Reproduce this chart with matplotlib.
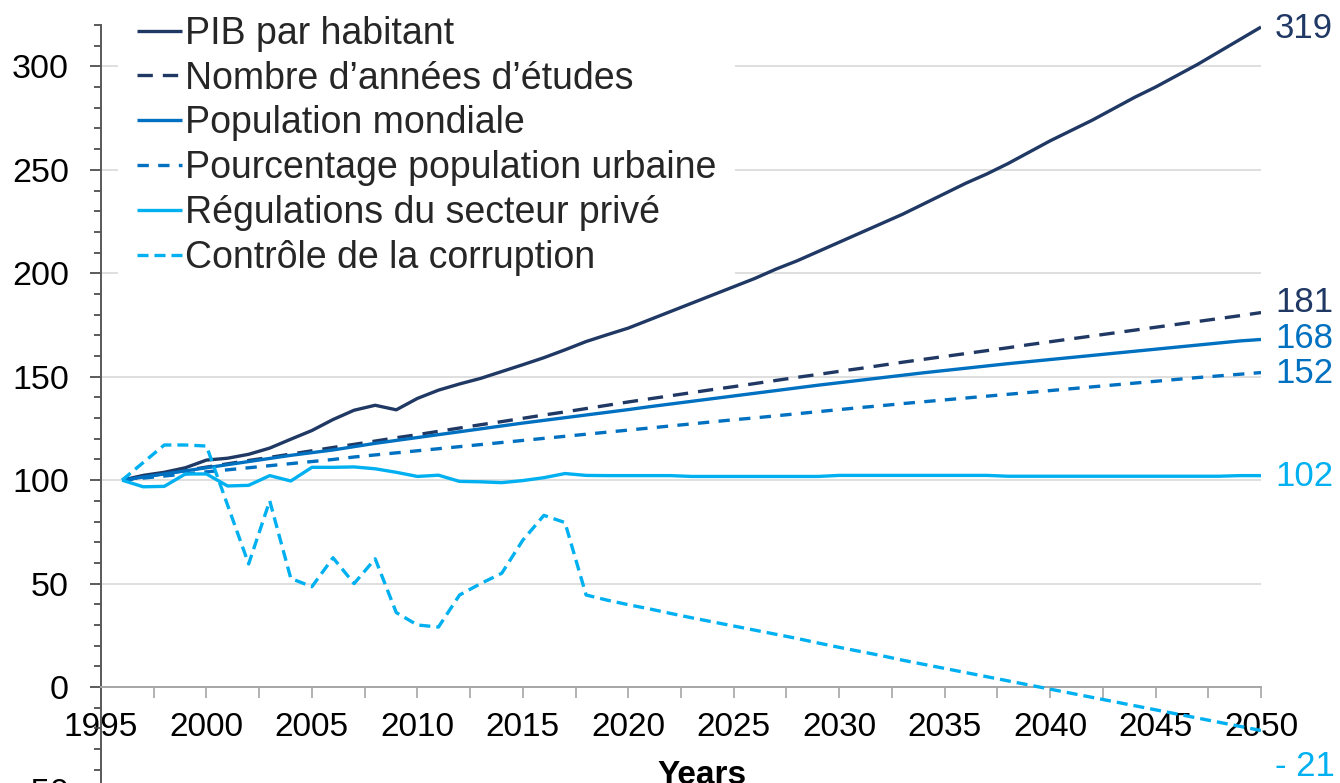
import numpy as np
import matplotlib
matplotlib.use("Agg")
import matplotlib.pyplot as plt
from matplotlib.ticker import MultipleLocator

plt.rcParams['font.family'] = ['Liberation Sans', 'DejaVu Sans']

years = np.arange(1996, 2051)

pib = [100, 102.3, 103.8, 106, 109.7, 110.6, 112.5, 115.5, 119.8, 124,
       129.3, 133.8, 136.2, 134, 139.5, 143.5, 146.5, 149.2, 152.5, 155.8,
       159.2, 163, 167, 170.3, 173.5, 177.5, 181.5, 185.5, 189.5, 193.5,
       197.5, 202, 206, 210.5, 215, 219.5, 224, 228.5, 233.5, 238.5,
       243.5, 248, 253, 258.5, 264, 269, 274, 279.5, 285, 290,
       295.5, 301, 307, 313, 319]
etudes = [100, 101.6, 103.2, 104.7, 106.3, 107.9, 109.5, 111, 112.6, 114.2,
          115.8, 117.3, 118.9, 120.5, 122, 123.6, 125.2, 126.8, 128.3, 129.9,
          131.5, 133, 134.6, 136.2, 137.8, 139.3, 140.8, 142.3, 143.8, 145.2,
          146.7, 148.2, 149.7, 151.1, 152.6, 154, 155.5, 157, 158.4, 159.8,
          161.2, 162.6, 164, 165.5, 166.9, 168.3, 169.7, 171.1, 172.5, 173.9,
          175.3, 176.7, 178.1, 179.5, 181]
population = [100, 101.5, 103, 104.5, 106, 107.5, 109, 110.5, 112, 113.3,
              114.6, 116.2, 117.8, 119.2, 120.6, 122, 123.4, 124.8, 126.2, 127.6,
              128.9, 130.2, 131.5, 132.8, 134.1, 135.5, 136.8, 138.1, 139.4, 140.7,
              142, 143.3, 144.6, 145.9, 147.1, 148.3, 149.5, 150.7, 151.9, 153,
              154.1, 155.2, 156.3, 157.3, 158.3, 159.3, 160.3, 161.3, 162.3, 163.3,
              164.3, 165.3, 166.3, 167.3, 168]
urbaine = [100, 101, 102, 103, 104, 105, 106, 107, 108, 109,
           110, 111.2, 112.2, 113.2, 114.2, 115.2, 116.2, 117.2, 118.2, 119.2,
           120.2, 121.2, 122.2, 123.2, 124.2, 125.2, 126.2, 127.2, 128.2, 129.2,
           130.1, 131.1, 132.1, 133.1, 134.1, 135.1, 136, 137, 137.9, 138.8,
           139.7, 140.6, 141.5, 142.4, 143.3, 144.2, 145.1, 146, 146.9, 147.8,
           148.7, 149.6, 150.4, 151.2, 152]
regulations = [100, 96.8, 97, 103, 103, 97.2, 97.5, 102.2, 99.6, 106.2,
               106.2, 106.4, 105.5, 103.8, 101.8, 102.4, 99.4, 99.2, 98.8, 99.8,
               101.2, 103.2, 102.3, 102.2, 102.2, 102.2, 102.2, 101.8, 101.8, 101.8,
               101.8, 101.8, 101.8, 101.8, 102.3, 102.3, 102.3, 102.3, 102.3, 102.3,
               102.3, 102.3, 101.9, 101.9, 101.9, 101.9, 101.9, 101.9, 101.9, 101.9,
               101.9, 101.9, 101.9, 102.2, 102.2]
corruption = [100, 108.5, 117, 117, 116.5, 88, 59.5, 90, 52.5, 48.5,
              62.5, 50, 62, 36, 30, 29, 44.5, 50, 55, 71,
              83, 79.5, 44.5, 42, 39.8, 37.8, 35.6, 33.5, 31.5, 29.5,
              27.5, 25.5, 23.5, 21.3, 19.2, 17.2, 15.2, 13, 11, 9,
              7, 5, 3, 1, -1, -3, -5, -7, -9, -11,
              -13, -15, -17, -19, -21]

labels = ["PIB par habitant", "Nombre d\u2019années d\u2019études", "Population mondiale",
          "Pourcentage population urbaine", "Régulations du secteur privé",
          "Contrôle de la corruption"]

navy = "#203864"
mid = "#0070c0"
light = "#00b0f0"
# (data, colour, dashes, vertical offset of end label in points)
series = [
    (pib, navy, None, 0),
    (etudes, navy, (4.6, 3.0), 8),
    (population, mid, None, 2),
    (urbaine, mid, (3.4, 2.8), 0),
    (regulations, light, None, 0),
    (corruption, light, (3.3, 1.8), -25),
]

fig = plt.figure(figsize=(13.4, 7.83), dpi=100)
W, H = 1340, 783
ax = fig.add_axes([101 / W, (H - 790.5) / H, 1160 / W, (790.5 - 25) / H])

for (vals, col, dash, dy), lab in zip(series, labels):
    line, = ax.plot(years, vals, color=col, lw=2.4, label=lab, solid_capstyle='butt',
                    zorder=3)
    if dash:
        line.set_dashes(dash)
    v = vals[-1]
    txt = f"{v:.0f}" if v >= 0 else f"- {abs(v):.0f}"
    ax.annotate(txt, xy=(2050, v), xytext=(10, dy - 1), textcoords='offset points',
                va='center', ha='left', fontsize=25, color=col, annotation_clip=False)

ax.set_xlim(1995, 2050)
ax.set_ylim(-50, 320)

ax.xaxis.set_major_locator(MultipleLocator(5))
ax.xaxis.set_minor_locator(MultipleLocator(2.5))
ax.yaxis.set_major_locator(MultipleLocator(50))
ax.yaxis.set_minor_locator(MultipleLocator(10))

for s in ['top', 'right']:
    ax.spines[s].set_visible(False)
ax.spines['bottom'].set_position(('data', 0))
ax.spines['bottom'].set_color('#a6a6a6')
ax.spines['bottom'].set_linewidth(1.4)
ax.spines['left'].set_color('#595959')
ax.spines['left'].set_linewidth(1.4)

ax.tick_params(axis='x', which='both', direction='out', length=8, color='#a6a6a6',
               width=1.2, labelsize=24, pad=10)
ax.tick_params(axis='y', which='major', direction='out', length=8, color='#404040',
               width=1.2, labelsize=24.5, pad=15)
ax.tick_params(axis='y', which='minor', direction='out', length=5, color='#404040', width=1.2)

ax.grid(axis='y', which='major', color='#d9d9d9', lw=1.2)
ax.set_axisbelow(True)

leg = ax.legend(loc='upper left', bbox_to_anchor=(118 / W, 1.0 + 3 / H),
                bbox_transform=fig.transFigure, fontsize=27, frameon=True,
                fancybox=False, edgecolor='none', facecolor='white', framealpha=1,
                handlelength=1.2, handletextpad=0.08, labelspacing=0.235,
                borderpad=0.5, borderaxespad=0)
leg.set_zorder(2)
for t in leg.get_texts():
    t.set_color('#262626')

fig.text(702 / W, (H - 760) / H, "Years", ha='center', va='top', fontsize=24,
         fontweight='bold', color='#000000')

fig.savefig("out.png", dpi=100)
